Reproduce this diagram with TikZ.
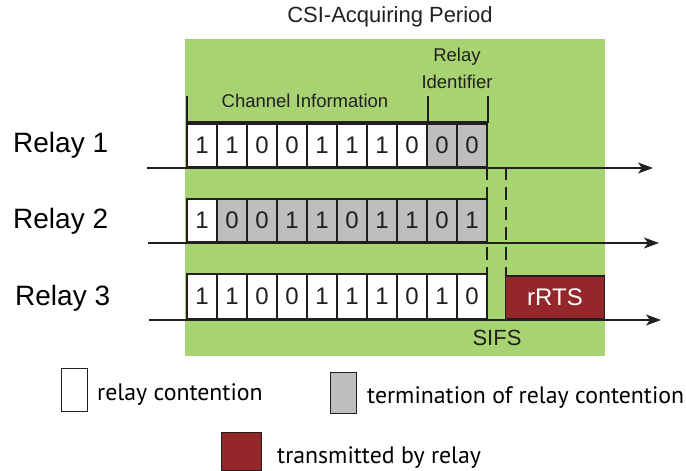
\documentclass[tikz,border=0pt]{standalone}
\usepackage{fontspec}
\setmainfont{Liberation Sans}
\newfontfamily\legendfont{PT Sans}
\usetikzlibrary{arrows.meta}
\definecolor{periodgreen}{HTML}{A7D372}
\definecolor{stopgray}{HTML}{BCBEC0}
\definecolor{rtsred}{HTML}{93272A}
\definecolor{inkgray}{HTML}{231F20}
\tikzset{
  bit/.style={draw=inkgray, line width=1.6pt, minimum width=30pt, minimum height=43pt,
    inner sep=0pt, font=\fontsize{24}{24}\selectfont, text=inkgray},
  bitw/.style={bit, fill=white},
  bitg/.style={bit, fill=stopgray},
  timeline/.style={draw=inkgray, line width=1.4pt, -{Stealth[length=15pt,width=11pt,inset=4pt]}},
  slot/.style={draw=inkgray, line width=1.4pt, dash pattern=on 13pt off 7pt},
  brace/.style={draw=inkgray, line width=1.4pt},
  relaylabel/.style={font=\fontsize{28}{28}\selectfont, text=black, inner sep=0pt},
  lbl/.style={font=\fontsize{18.5}{20}\selectfont, text=inkgray, inner sep=0pt},
  legendbox/.style={draw=inkgray, line width=1pt, inner sep=0pt},
  legendtext/.style={font=\legendfont\fontsize{23.8}{24}\selectfont, text=black, anchor=west, inner sep=0pt},
}
\begin{document}
\begin{tikzpicture}[x=1pt,y=-1pt]
\useasboundingbox (0,0) rectangle (686,471);

% acquisition period background
\fill[periodgreen] (185,39) rectangle (605,356);
\node[font=\fontsize{22}{22}\selectfont, text=inkgray, inner sep=0pt] (title) at (390,17) {CSI-Acquiring Period};

% field brackets
\coordinate (b0) at (187,96);
\coordinate (b1) at (187,122);
\coordinate (b2) at (488,122);
\coordinate (b3) at (488,96);
\coordinate (b4) at (428,96);
\coordinate (b5) at (428,122);
\draw[brace] (b0) -- (b1) -- (b2) -- (b3);
\draw[brace] (b4) -- (b5);
\node[lbl] (chinfo) at (305,101) {Channel Information};
\node[lbl, align=center, font=\fontsize{18.5}{27}\selectfont] (relid) at (457,68) {Relay\\Identifier};

% SIFS gap markers
\coordinate (s1t) at (487,167);
\coordinate (s1b) at (487,274);
\coordinate (s2t) at (506,167);
\coordinate (s2b) at (506,276);
\draw[slot] (s1t) -- (s1b);
\draw[slot] (s2t) -- (s2b);

% relay rows
\node[relaylabel, anchor=west] (relay1) at (13,145) {Relay 1};
\node[relaylabel, anchor=west] (relay2) at (13,221) {Relay 2};
\node[relaylabel, anchor=west] (relay3) at (15,298) {Relay 3};

\foreach \b [count=\i] in {1,1,0,0,1,1,1,0,0,0} {
  \ifnum\i>8 \def\st{bitg}\else\def\st{bitw}\fi
  \node[\st] (ra\i) at ({172+30*\i},145.5) {\b};
}
\foreach \b [count=\i] in {1,0,0,1,1,0,1,1,0,1} {
  \ifnum\i>1 \def\st{bitg}\else\def\st{bitw}\fi
  \node[\st] (rb\i) at ({172+30*\i},220.5) {\b};
}
\foreach \b [count=\i] in {1,1,0,0,1,1,1,0,1,0} {
  \node[bitw, minimum height=45pt] (rc\i) at ({172+30*\i},296.5) {\b};
}

\node[draw=inkgray, fill=rtsred, line width=1.6pt, minimum width=99pt, minimum height=43pt,
  inner sep=0pt, text=white, font=\fontsize{24}{24}\selectfont] (rrts) at (555,297.5) {rRTS};

% time axes
\coordinate (t1s) at (147,168);
\coordinate (t1e) at (653,168);
\coordinate (t2s) at (148,243);
\coordinate (t2e) at (659,243);
\coordinate (t3s) at (149,320);
\coordinate (t3e) at (661,320);
\draw[timeline] (t1s) -- (t1e);
\draw[timeline] (t2s) -- (t2e);
\draw[timeline] (t3s) -- (t3e);

\node[font=\fontsize{22}{22}\selectfont, text=inkgray, inner sep=0pt] (sifs) at (497,338) {SIFS};

% legend
\node[legendbox, fill=white, minimum width=26pt, minimum height=43pt] (lgw) at (74,389.5) {};
\node[legendtext] (lgwt) at (97,395) {relay contention};
\node[legendbox, fill=stopgray, minimum width=26pt, minimum height=41pt] (lgg) at (343.5,392.5) {};
\node[legendtext] (lggt) at (367,398) {termination of relay contention};
\node[legendbox, fill=rtsred, minimum width=40pt, minimum height=38pt] (lgr) at (241,451) {};
\node[legendtext] (lgrt) at (277,458) {transmitted by relay};
\end{tikzpicture}
\end{document}
